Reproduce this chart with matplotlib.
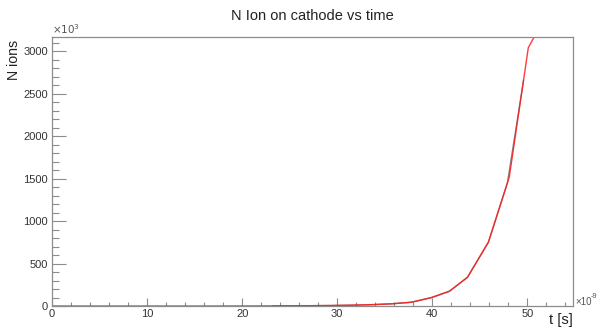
import numpy as np
import matplotlib
matplotlib.use('Agg')
import matplotlib.pyplot as plt
from matplotlib.ticker import MultipleLocator

plt.rcParams['font.family'] = ['Liberation Sans', 'DejaVu Sans']

# tempo em ns (eixo mostrado em unidades de 1e-9 s), N em unidades de 1e3
t_red = [0, 2.1, 4.2, 6.3, 8.4, 10.5, 12.6, 14.7, 16.8, 18.9, 21.0, 23.1, 25.2,
         27.3, 29.4, 31.5, 33.6, 35.7, 37.8, 39.9, 41.8, 43.7, 45.9, 48.1, 50.1, 52.3]
n_red = [0, 0, 0, 0, 0, 0, 0, 0, 0, 0.5, 1, 1.5, 2.5,
         4, 6, 10, 16, 26, 45, 100, 175, 337, 754, 1520, 3044, 3500]

t_blk = [23.2, 25.2, 27.3, 29.4, 31.5, 33.6, 35.7, 37.8, 39.9, 41.8, 43.7, 45.9, 47.9, 49.6]
n_blk = [1, 2, 3.5, 5.5, 9, 15, 25, 44, 97, 172, 340, 748, 1450, 2660]

titulo = 'N Ion on cathode vs time'
rotulo_x = 't [s]'
rotulo_y = 'N ions'

fig = plt.figure(figsize=(6.01, 3.34), dpi=100)
ax = fig.add_axes([52/601, 1 - 306/334, 521/601, 269/334])

ax.plot(t_blk, n_blk, color='#333333', lw=1.0, alpha=0.6)
ax.plot(t_red, n_red, color='#ff1a1a', lw=1.0, alpha=0.85)

ax.set_xlim(0, 54.8)
ax.set_ylim(0, 3170)

ax.xaxis.set_major_locator(MultipleLocator(10))
ax.xaxis.set_minor_locator(MultipleLocator(2))
ax.yaxis.set_major_locator(MultipleLocator(500))
ax.yaxis.set_minor_locator(MultipleLocator(100))

cinza = '#8c8c8c'
for s in ax.spines.values():
    s.set_color(cinza)
    s.set_linewidth(0.9)

ax.tick_params(axis='x', which='major', direction='in', length=5.5, width=0.8,
               color=cinza, labelsize=8, labelcolor='#333333', pad=2)
ax.tick_params(axis='x', which='minor', direction='in', length=2.8, width=0.8, color=cinza)
ax.tick_params(axis='y', which='major', direction='in', length=10, width=0.8,
               color=cinza, labelsize=8, labelcolor='#333333', pad=3)
ax.tick_params(axis='y', which='minor', direction='in', length=5, width=0.8, color=cinza)

# multiplicadores estilo ROOT
ax.text(0.0, 1.005, r'$\times10^{3}$', transform=ax.transAxes, fontsize=7.5,
        color='#555555', ha='left', va='bottom')
fig.text(575/601, 1 - 302/334, '×10', fontsize=7, color='#555555',
         ha='left', va='center')
fig.text(591/601, 1 - 297/334, '-9', fontsize=5.2, color='#555555',
         ha='left', va='center')

fig.text(312/601, 1 - 15.5/334, titulo, fontsize=10.5, color='#222222',
         ha='center', va='center')
fig.text(14/601, 1 - 40/334, rotulo_y, fontsize=10.2, color='#222222',
         rotation=90, ha='center', va='top')
fig.text(573/601, 1 - 320/334, rotulo_x, fontsize=10.7, color='#222222',
         ha='right', va='center')

fig.savefig('out.png', dpi=100)
